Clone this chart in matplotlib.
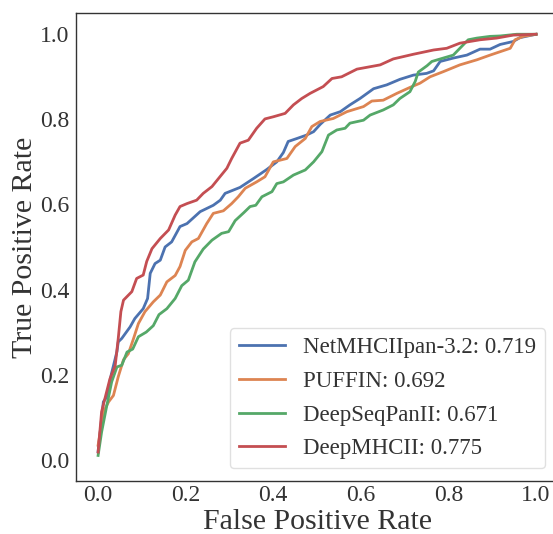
import numpy as np
import matplotlib
matplotlib.use('Agg')
import matplotlib.pyplot as plt

# ============================================================
# Data ROC
# ============================================================
labels = ['NetMHCIIpan-3.2: 0.719', 'PUFFIN: 0.692',
          'DeepSeqPanII: 0.671', 'DeepMHCII: 0.775']
colors = ['#4C72B0', '#DD8452', '#55A868', '#C44E52']

fpr_net = [0.0, 0.012, 0.02, 0.03, 0.043, 0.046, 0.054, 0.073, 0.084, 0.103, 0.113, 0.119,
           0.13, 0.142, 0.153, 0.168, 0.187, 0.203, 0.233, 0.263, 0.279, 0.29, 0.324, 0.355,
           0.385, 0.408, 0.423, 0.434, 0.454, 0.476, 0.492, 0.507, 0.53, 0.553, 0.575, 0.598,
           0.629, 0.659, 0.689, 0.72, 0.75, 0.766, 0.781, 0.811, 0.842, 0.872, 0.895, 0.918,
           0.948, 0.963, 1.0]
tpr_net = [0.019, 0.136, 0.148, 0.2, 0.254, 0.277, 0.285, 0.312, 0.332, 0.355, 0.379, 0.438,
           0.461, 0.469, 0.5, 0.512, 0.548, 0.555, 0.583, 0.598, 0.61, 0.626, 0.64, 0.661,
           0.682, 0.7, 0.722, 0.748, 0.755, 0.763, 0.771, 0.788, 0.81, 0.818, 0.834, 0.849,
           0.872, 0.881, 0.894, 0.904, 0.908, 0.914, 0.936, 0.944, 0.951, 0.965, 0.965, 0.976,
           0.983, 0.992, 1.0]

fpr_puf = [0.0, 0.012, 0.024, 0.035, 0.046, 0.058, 0.069, 0.081, 0.092, 0.107, 0.126, 0.142,
           0.157, 0.176, 0.187, 0.199, 0.214, 0.229, 0.248, 0.263, 0.286, 0.305, 0.32, 0.336,
           0.362, 0.381, 0.4, 0.431, 0.45, 0.473, 0.488, 0.507, 0.537, 0.568, 0.606, 0.625,
           0.651, 0.682, 0.712, 0.735, 0.758, 0.788, 0.826, 0.865, 0.895, 0.918, 0.941, 0.952,
           0.971, 1.0]
tpr_puf = [0.034, 0.112, 0.136, 0.151, 0.195, 0.235, 0.249, 0.285, 0.32, 0.348, 0.371, 0.387,
           0.418, 0.433, 0.454, 0.492, 0.512, 0.52, 0.555, 0.579, 0.585, 0.602, 0.618, 0.638,
           0.653, 0.665, 0.7, 0.708, 0.736, 0.755, 0.783, 0.795, 0.802, 0.818, 0.83, 0.843,
           0.845, 0.861, 0.875, 0.885, 0.9, 0.912, 0.928, 0.94, 0.951, 0.959, 0.967, 0.987,
           0.995, 1.0]

fpr_dsp = [0.0, 0.008, 0.02, 0.031, 0.043, 0.054, 0.066, 0.079, 0.092, 0.11, 0.126, 0.139,
           0.157, 0.176, 0.191, 0.206, 0.221, 0.24, 0.26, 0.282, 0.298, 0.313, 0.333, 0.347,
           0.36, 0.374, 0.397, 0.408, 0.423, 0.446, 0.473, 0.492, 0.511, 0.526, 0.545, 0.564,
           0.575, 0.606, 0.621, 0.651, 0.674, 0.689, 0.712, 0.724, 0.731, 0.751, 0.762, 0.788,
           0.811, 0.826, 0.845, 0.865, 0.895, 0.918, 0.956, 1.0]
tpr_dsp = [0.01, 0.065, 0.128, 0.183, 0.218, 0.222, 0.253, 0.26, 0.289, 0.3, 0.315, 0.341,
           0.355, 0.379, 0.409, 0.422, 0.465, 0.495, 0.516, 0.532, 0.536, 0.562, 0.581, 0.595,
           0.598, 0.618, 0.63, 0.649, 0.653, 0.669, 0.681, 0.7, 0.724, 0.763, 0.775, 0.779,
           0.791, 0.798, 0.81, 0.822, 0.834, 0.849, 0.865, 0.889, 0.911, 0.926, 0.936, 0.944,
           0.951, 0.967, 0.987, 0.991, 0.995, 0.996, 1.0, 1.0]

fpr_dm = [0.0, 0.008, 0.027, 0.039, 0.046, 0.052, 0.058, 0.077, 0.088, 0.103, 0.111, 0.123,
          0.142, 0.161, 0.176, 0.187, 0.203, 0.225, 0.24, 0.26, 0.275, 0.294, 0.305, 0.324,
          0.343, 0.362, 0.381, 0.4, 0.427, 0.446, 0.465, 0.484, 0.514, 0.534, 0.556, 0.591,
          0.644, 0.674, 0.72, 0.766, 0.796, 0.826, 0.872, 0.91, 0.948, 1.0]
tpr_dm = [0.018, 0.113, 0.19, 0.221, 0.285, 0.348, 0.375, 0.395, 0.426, 0.434, 0.466, 0.496,
          0.52, 0.54, 0.575, 0.595, 0.602, 0.61, 0.626, 0.642, 0.661, 0.685, 0.708, 0.744,
          0.751, 0.779, 0.801, 0.806, 0.814, 0.834, 0.849, 0.861, 0.877, 0.896, 0.9, 0.918,
          0.928, 0.942, 0.953, 0.963, 0.967, 0.979, 0.987, 0.991, 0.998, 1.0]

curves = [(fpr_net, tpr_net), (fpr_puf, tpr_puf), (fpr_dsp, tpr_dsp), (fpr_dm, tpr_dm)]

# ============================================================
# Plot
# ============================================================
plt.rcParams['font.family'] = ['Liberation Serif', 'DejaVu Serif']
plt.rcParams['text.color'] = '0.2'
plt.rcParams['axes.labelcolor'] = '0.2'
plt.rcParams['xtick.color'] = '0.2'
plt.rcParams['ytick.color'] = '0.2'

fig = plt.figure(figsize=(5.53, 5.34), dpi=100)
ax = fig.add_axes([0.1378, 0.0993, 0.8712, 0.8764])

for (fpr, tpr), lab, col in zip(curves, labels, colors):
    ax.plot(fpr, tpr, color=col, linewidth=2.0, label=lab)

ax.set_xlim(-0.05, 1.05)
ax.set_ylim(-0.05, 1.05)
ax.set_xticks([0.0, 0.2, 0.4, 0.6, 0.8, 1.0])
ax.set_yticks([0.0, 0.2, 0.4, 0.6, 0.8, 1.0])
ax.tick_params(axis='x', length=0, labelsize=17, pad=3)
ax.tick_params(axis='y', length=0, labelsize=17, pad=5)
ax.set_xlabel('False Positive Rate', fontsize=21.5, labelpad=2)
ax.set_ylabel('True Positive Rate', fontsize=21.5, labelpad=1)

for s in ax.spines.values():
    s.set_color('0.2')
    s.set_linewidth(1.0)
ax.spines['right'].set_visible(False)

leg = ax.legend(loc='lower right', fontsize=16.5, frameon=True, fancybox=True,
                borderaxespad=0.55, labelspacing=0.55)
leg.get_frame().set_edgecolor('0.85')

plt.savefig('out.png', dpi=100)
plt.close()
